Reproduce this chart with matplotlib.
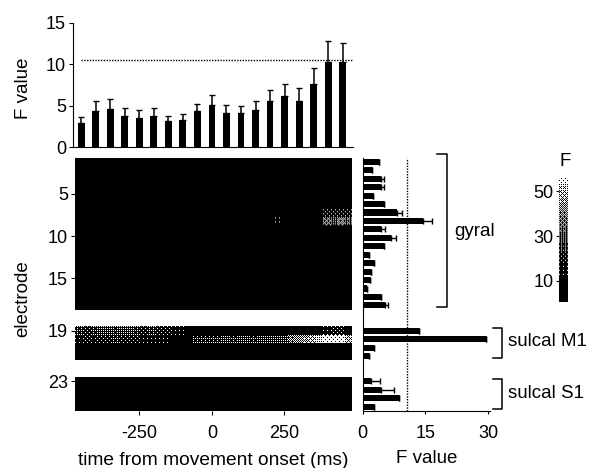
import numpy as np
import matplotlib.pyplot as plt
from matplotlib.colors import LinearSegmentedColormap
from matplotlib.lines import Line2D

plt.rcParams['font.family'] = ['Liberation Sans', 'DejaVu Sans']
plt.rcParams['font.size'] = 13

# top panel: F value over time
bar_times = [-450, -400, -350, -300, -250, -200, -150, -100, -50, 0,
             50, 100, 150, 200, 250, 300, 350, 400, 450]
time_f = [2.9, 4.4, 4.55, 3.7, 3.5, 3.75, 3.15, 3.3, 4.3, 5.1,
          4.15, 4.1, 4.5, 5.55, 6.1, 5.6, 7.6, 10.2, 10.2]
time_err = [0.7, 1.1, 1.3, 1.05, 1.0, 0.9, 0.6, 0.7, 0.9, 1.15,
            0.95, 0.9, 1.1, 1.3, 1.55, 1.55, 1.9, 2.6, 2.4]
threshold = 10.5

# right panel: F value per electrode
gyral_f = [3.9, 2.3, 4.3, 4.3, 2.4, 5.0, 8.3, 14.4, 4.3, 6.8, 5.1, 1.5, 2.7, 2.1, 1.8, 1.0, 4.4, 5.4]
gyral_err = [0, 0, 0.8, 0.9, 0, 0, 1.1, 2.1, 1.1, 1.1, 0, 0, 0, 0, 0, 0, 0, 0.7]
m1_f = [13.4, 29.6, 2.7, 1.4]
m1_err = [0, 0, 0, 0]
s1_f = [2.0, 4.4, 8.6, 2.6]
s1_err = [2.2, 3.2, 0, 0]

# heat map, 38 time bins of 25 ms, only the rows that are not black
n_bins = 38
row7 = [0] * 34 + [18, 20, 18, 19]
row8 = [0] * 27 + [16] + [0] * 6 + [36, 30, 38, 33]
row19 = [24, 22, 27, 30, 28, 26, 30, 28, 24, 22, 24, 20, 18, 16, 15, 12, 10, 8] + [0] * 16 + [17, 20, 18, 8]
row20 = [14, 18, 16, 20, 22, 24, 20, 22, 18, 16, 16, 14, 14, 12, 12, 10] + \
        [26, 24, 27, 25, 28, 26, 28, 30, 27, 30, 29, 31, 30, 38, 42, 46, 50, 52] + [56, 56, 56, 50]
cbar_ticks = [10, 30, 50]

H, W = 468, 597
fig = plt.figure(figsize=(5.97, 4.68), dpi=100)


def add_axes_px(x0, y0, x1, y1):
    # pixel box, y counted from the top of the picture
    return fig.add_axes([x0 / W, 1 - y1 / H, (x1 - x0) / W, (y1 - y0) / H])


def bracket(x0, x1, y0, y1):
    fig.add_artist(Line2D([x0 / W, x1 / W, x1 / W, x0 / W],
                          [1 - y0 / H, 1 - y0 / H, 1 - y1 / H, 1 - y1 / H],
                          color='black', lw=1.1))


cmap = LinearSegmentedColormap.from_list('f', [(0, 'black'), (10 / 56, 'black'), (30 / 56, '#404040'),
                                               (50 / 56, '#a6a6a6'), (1, '#e6e6e6')])
bayer = np.array([[0, 8, 2, 10], [12, 4, 14, 6], [3, 11, 1, 9], [15, 7, 13, 5]]) / 16 + 1 / 32


def halftone(block, px_w, px_h):
    # the original is a printed halftone, so turn the greys into dots at one dot per pixel
    rows = (np.arange(px_h) * block.shape[0] / px_h).astype(int)
    cols = (np.arange(px_w) * block.shape[1] / px_w).astype(int)
    grey = cmap(np.asarray(block)[rows][:, cols] / 56)[:, :, 0]
    grid = np.tile(bayer, (px_h // 4 + 1, px_w // 4 + 1))[:px_h, :px_w]
    return (grey > grid).astype(float)


# ----------------------
# top bars
# ----------------------
ax_top = add_axes_px(73, 22.7, 353, 147)
ax_top.bar(bar_times, time_f, width=24, color='black')
ax_top.errorbar(bar_times, time_f, yerr=[np.zeros(len(time_err)), time_err], fmt='none',
                ecolor='black', elinewidth=1.1, capsize=2, capthick=1)
ax_top.plot([-450, 486], [threshold, threshold], color='black', lw=1, ls=(0, (1, 1)))
ax_top.set_xlim(-479, 486)
ax_top.set_ylim(0, 15)
ax_top.set_yticks([0, 5, 10, 15])
ax_top.set_xticks([])
ax_top.spines[['top', 'right']].set_visible(False)
ax_top.tick_params(axis='y', length=3, pad=2)
fig.text(23 / W, 1 - 88 / H, 'F value', rotation=90, fontsize=13.5, ha='center', va='center')

# ----------------------
# heat map, one slot per electrode, with empty slots between the groups
# ----------------------
ax_heat = add_axes_px(75, 157.6, 352, 411)
gyral_heat = np.zeros((18, n_bins))
gyral_heat[6] = row7
gyral_heat[7] = row8
m1_heat = np.zeros((4, n_bins))
m1_heat[0] = row19
m1_heat[1] = row20
s1_heat = np.zeros((4, n_bins))
ext = [-472, 483]
for block, top, bottom in [(gyral_heat, 0.5, 18.5), (m1_heat, 20.5, 24.5), (s1_heat, 26.5, 30.5)]:
    px_h = int(round((bottom - top) * 8.44))
    ax_heat.imshow(halftone(block, 277, px_h), cmap='gray', vmin=0, vmax=1, aspect='auto',
                   interpolation='antialiased', extent=[ext[0], ext[1], bottom, top])
ax_heat.set_xlim(ext)
ax_heat.set_ylim(30.5, 0.5)
ax_heat.set_yticks([4.8, 9.8, 14.8, 21, 27])
ax_heat.set_yticklabels(['5', '10', '15', '19', '23'])
ax_heat.set_xticks([-250, 0, 250])
ax_heat.set_xticklabels(['-250', '0', '250'])
for s in ax_heat.spines.values():
    s.set_visible(False)
ax_heat.tick_params(axis='y', length=3, pad=2)
ax_heat.tick_params(axis='x', length=3, pad=7)
ax_heat.set_xlabel('time from movement onset (ms)', fontsize=13.8, labelpad=7)
fig.text(23 / W, 1 - 299 / H, 'electrode', rotation=90, fontsize=13.5, ha='center', va='center')

# ----------------------
# right bars
# ----------------------
ax_right = add_axes_px(362.7, 157.6, 490, 411)
groups = [(gyral_f, gyral_err, 1), (m1_f, m1_err, 21), (s1_f, s1_err, 27)]
for vals, errs, first in groups:
    slots = np.arange(first, first + len(vals))
    ax_right.barh(slots, vals, height=0.72, color='black')
    ax_right.errorbar(vals, slots, xerr=[np.zeros(len(errs)), errs], fmt='none',
                      ecolor='black', elinewidth=1, capsize=2, capthick=1)
ax_right.axvline(threshold, color='black', lw=1, ls=(0, (1, 1)))
ax_right.set_xlim(0, 30.5)
ax_right.set_ylim(30.5, 0.5)
ax_right.set_xticks([0, 15, 30])
ax_right.set_yticks([])
ax_right.spines[['top', 'right']].set_visible(False)
ax_right.tick_params(axis='x', length=2, pad=8)
ax_right.set_xlabel('F value', fontsize=13.5, labelpad=6)

# group labels
bracket(437, 447, 154, 307)
bracket(493, 502, 328, 358)
bracket(493, 502, 379, 409)
fig.text(454 / W, 1 - 231 / H, 'gyral', fontsize=13.5, va='center')
fig.text(508 / W, 1 - 342 / H, 'sulcal M1', fontsize=13.5, va='center')
fig.text(508 / W, 1 - 393 / H, 'sulcal S1', fontsize=13.5, va='center')

# ----------------------
# colour scale
# ----------------------
ax_cbar = add_axes_px(559, 178, 568, 302)
scale = np.linspace(56, 0.5, 124).reshape(-1, 1)
ax_cbar.imshow(halftone(scale, 9, 124), cmap='gray', vmin=0, vmax=1, aspect='auto', extent=[0, 1, 0.5, 56])
ax_cbar.set_xticks([])
ax_cbar.set_yticks(cbar_ticks)
for s in ax_cbar.spines.values():
    s.set_visible(False)
ax_cbar.tick_params(axis='y', length=2, pad=2)
fig.text(565 / W, 1 - 162 / H, 'F', fontsize=13.5, ha='center', va='center')

fig.savefig('out.png', dpi=100)
